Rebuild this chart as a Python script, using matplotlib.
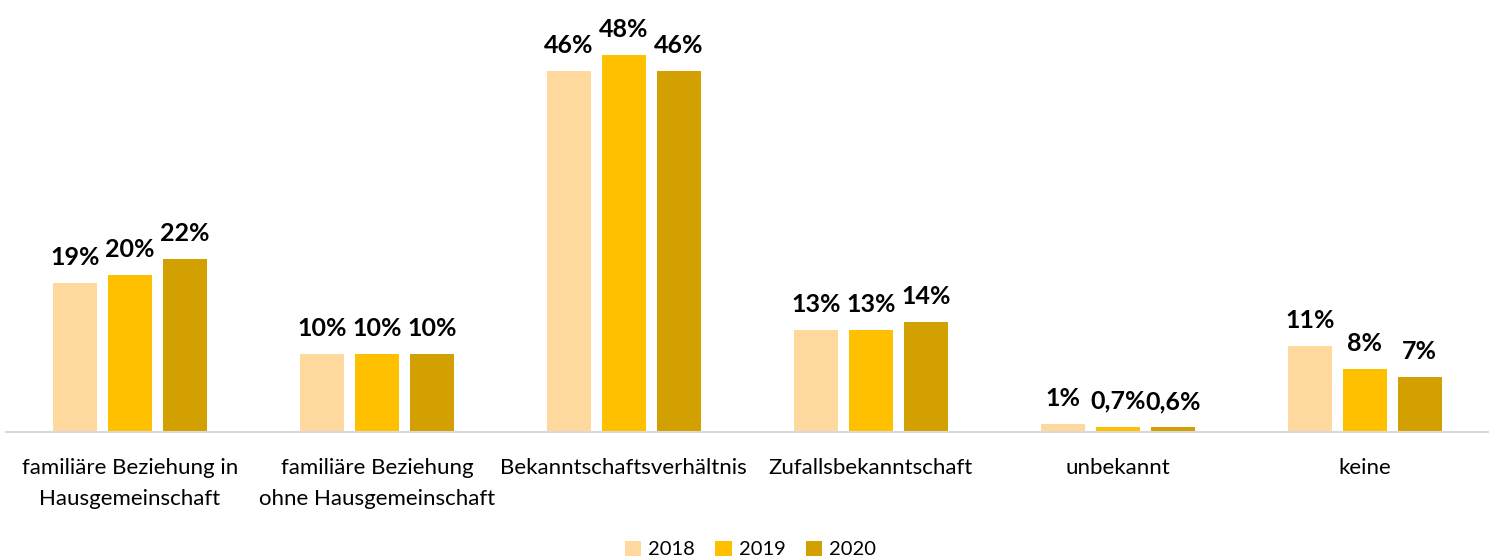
import numpy as np
import matplotlib.pyplot as plt

categories = [
    "familiäre Beziehung in\nHausgemeinschaft",
    "familiäre Beziehung\nohne Hausgemeinschaft",
    "Bekanntschaftsverhältnis",
    "Zufallsbekanntschaft",
    "unbekannt",
    "keine",
]
years = ["2018", "2019", "2020"]
values_2018 = [19, 10, 46, 13, 1, 11]
values_2019 = [20, 10, 48, 13, 0.7, 8]
values_2020 = [22, 10, 46, 14, 0.6, 7]
labels_2018 = ["19%", "10%", "46%", "13%", "1%", "11%"]
labels_2019 = ["20%", "10%", "48%", "13%", "0,7%", "8%"]
labels_2020 = ["22%", "10%", "46%", "14%", "0,6%", "7%"]

colors = ["#FFD89E", "#FFC000", "#D2A000"]

plt.rcParams["font.family"] = ["Lato", "DejaVu Sans"]

fig = plt.figure(figsize=(14.95, 5.57), dpi=100)
ax = fig.add_axes([0.0043, 0.2244, 0.9912, 0.7756])

x = np.arange(len(categories))
width = 0.178
step = 0.223
series = [values_2018, values_2019, values_2020]
texts = [labels_2018, labels_2019, labels_2020]
for i, (vals, labs) in enumerate(zip(series, texts)):
    bars = ax.bar(x + (i - 1) * step, vals, width, color=colors[i], label=years[i])
    ax.bar_label(bars, labels=labs, padding=10, fontsize=18, fontweight="bold")

ax.set_xlim(-0.5, 5.5)
ax.set_ylim(0, 55.03)
ax.set_xticks(x)
ax.set_xticklabels(categories, fontsize=16, linespacing=1.65)
ax.tick_params(axis="x", length=0, pad=19)
ax.set_yticks([])
for s in ["top", "right", "left"]:
    ax.spines[s].set_visible(False)
ax.spines["bottom"].set_color("#D9D9D9")
ax.spines["bottom"].set_linewidth(1.5)

fig.legend(loc="lower center", bbox_to_anchor=(0.502, -0.035), ncol=3, frameon=False,
           fontsize=14.5, handlelength=0.8, handleheight=0.8, handletextpad=0.35, columnspacing=1.0)

fig.savefig("out.png", dpi=100)
